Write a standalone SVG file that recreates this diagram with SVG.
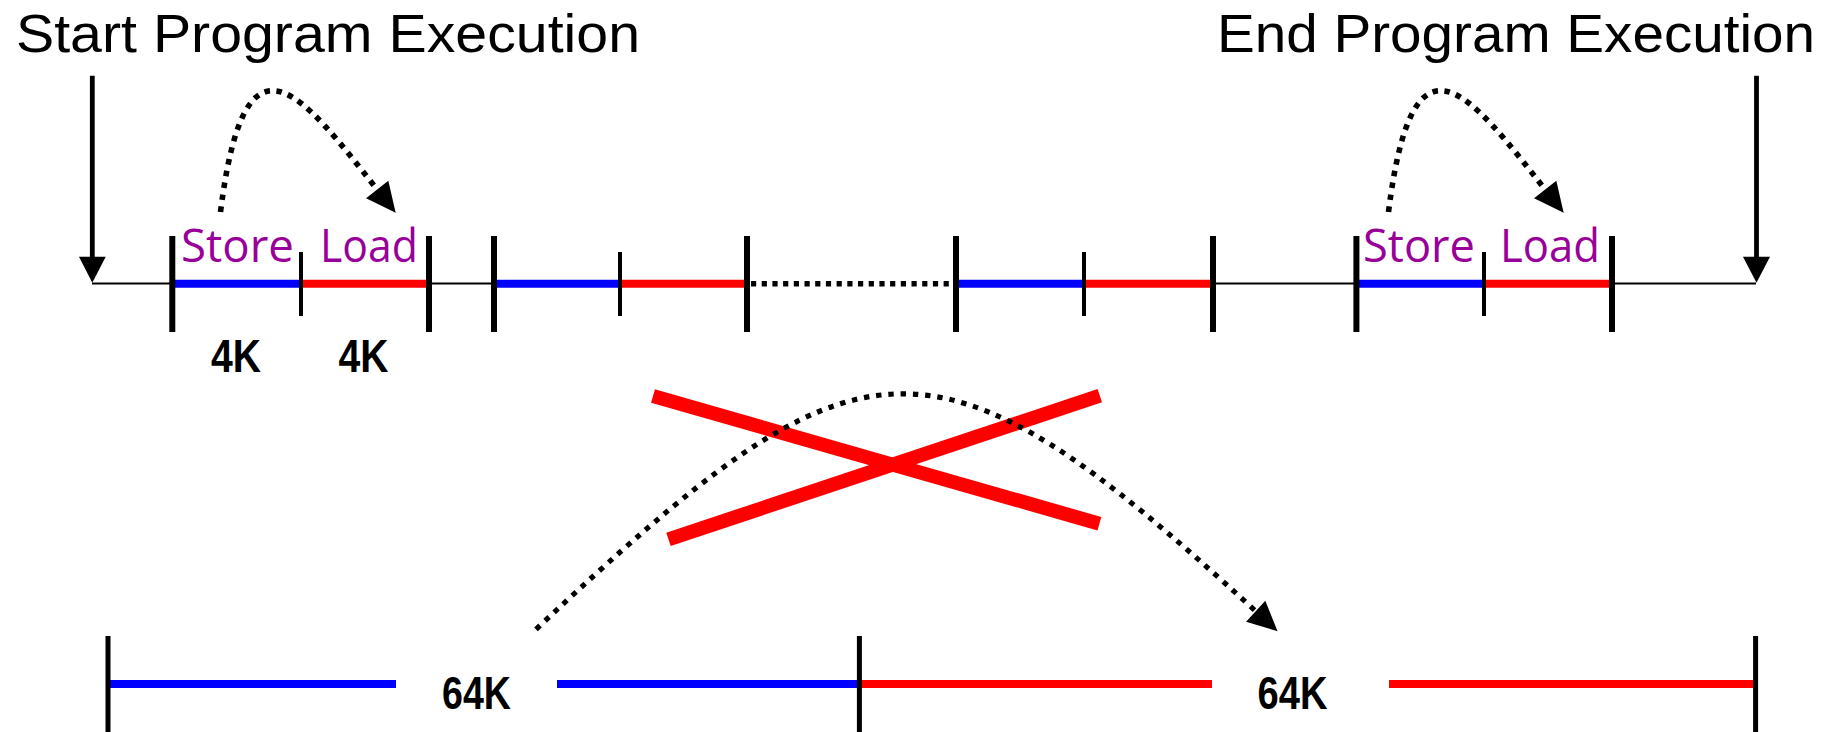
<svg xmlns="http://www.w3.org/2000/svg" width="1824" height="732" viewBox="0 0 1824 732">
  <style>
    .title { font-family: "Liberation Sans", Arial, sans-serif; font-size: 54px; fill: #000; }
    .phase { font-family: "Open Sans", "Noto Sans", sans-serif; font-size: 45px; fill: #990099; }
    .size { font-family: "Liberation Sans Narrow", "Liberation Sans", Arial, sans-serif; font-weight: bold; font-stretch: condensed; font-size: 47px; fill: #000; text-anchor: middle; }
    .thin { stroke: #000; stroke-width: 2; fill: none; }
    .store { stroke: #0000FF; stroke-width: 8; fill: none; }
    .load { stroke: #FF0000; stroke-width: 8; fill: none; }
    .tick { stroke: #000; stroke-width: 6; }
    .subtick { stroke: #000; stroke-width: 4; }
    .btick { stroke: #000; stroke-width: 5; }
    .gap { stroke: #000; stroke-width: 5.5; stroke-dasharray: 5.2 5.5; fill: none; }
    .hop { stroke: #000; stroke-width: 5.6; stroke-dasharray: 5.6 6.4; fill: none; }
    .bighop { stroke: #000; stroke-width: 5.2; stroke-dasharray: 5.4 6.9; fill: none; }
    .shaft { stroke: #000; stroke-width: 4.8; }
    .cross { stroke: #FF0000; stroke-width: 14; stroke-linecap: butt; }
  </style>
  <defs>
    <marker id="head" markerUnits="userSpaceOnUse" viewBox="0 0 30 28.4" markerWidth="30" markerHeight="28.4" refX="0" refY="14.2" orient="auto" overflow="visible">
      <path d="M0,0 L29.7,14.2 L0,28.4 z" fill="#000"/>
    </marker>
  </defs>

  <!-- headings -->
  <g id="start-label">
    <text class="title" x="16" y="52" textLength="624" lengthAdjust="spacingAndGlyphs">Start Program Execution</text>
  </g>
  <g id="end-label">
    <text class="title" x="1217" y="52" textLength="598" lengthAdjust="spacingAndGlyphs">End Program Execution</text>
  </g>

  <!-- start / end arrows -->
  <g id="start-arrow">
    <line class="shaft" x1="92.3" y1="75.7" x2="92.3" y2="258"/>
    <polygon points="79,256.7 105.7,256.7 92.3,282.7" fill="#000"/>
  </g>
  <g id="end-arrow">
    <line class="shaft" x1="1756.5" y1="75.7" x2="1756.5" y2="258"/>
    <polygon points="1743,256.7 1770,256.7 1756.5,282.7" fill="#000"/>
  </g>

  <!-- execution timeline with 4K store/load chunks -->
  <g id="timeline">
    <line class="thin" x1="92" y1="283.5" x2="172" y2="283.5"/>
    <line class="thin" x1="429" y1="283.5" x2="494" y2="283.5"/>
    <line class="thin" x1="1213" y1="283.5" x2="1356" y2="283.5"/>
    <line class="thin" x1="1612" y1="283.5" x2="1756" y2="283.5"/>
    <line class="gap" x1="751" y1="283.8" x2="953" y2="283.8"/>
  </g>

  <g id="chunk-1">
    <line class="store" x1="172" y1="283.8" x2="301" y2="283.8"/>
    <line class="load" x1="301" y1="283.8" x2="429" y2="283.8"/>
    <line class="tick" x1="172.3" y1="236" x2="172.3" y2="332"/>
    <line class="subtick" x1="301" y1="252" x2="301" y2="316"/>
    <line class="tick" x1="429" y1="236" x2="429" y2="332"/>
    <text class="phase" x="181" y="261.7" textLength="113" lengthAdjust="spacingAndGlyphs">Store</text>
    <text class="phase" x="320" y="261.7" textLength="98" lengthAdjust="spacingAndGlyphs">Load</text>
    <text class="size" x="236" y="372" textLength="50" lengthAdjust="spacingAndGlyphs">4K</text>
    <text class="size" x="363.5" y="372" textLength="50" lengthAdjust="spacingAndGlyphs">4K</text>
  </g>

  <g id="chunk-2">
    <line class="store" x1="494" y1="283.8" x2="620" y2="283.8"/>
    <line class="load" x1="620" y1="283.8" x2="746" y2="283.8"/>
    <line class="tick" x1="494" y1="236" x2="494" y2="332"/>
    <line class="subtick" x1="620" y1="252" x2="620" y2="316"/>
    <line class="tick" x1="747" y1="236" x2="747" y2="332"/>
  </g>

  <g id="chunk-3">
    <line class="store" x1="956" y1="283.8" x2="1084" y2="283.8"/>
    <line class="load" x1="1084" y1="283.8" x2="1213" y2="283.8"/>
    <line class="tick" x1="956" y1="236" x2="956" y2="332"/>
    <line class="subtick" x1="1084" y1="252" x2="1084" y2="316"/>
    <line class="tick" x1="1213" y1="236" x2="1213" y2="332"/>
  </g>

  <g id="chunk-4">
    <line class="store" x1="1356" y1="283.8" x2="1484" y2="283.8"/>
    <line class="load" x1="1484" y1="283.8" x2="1612" y2="283.8"/>
    <line class="tick" x1="1356.4" y1="236" x2="1356.4" y2="332"/>
    <line class="subtick" x1="1484" y1="252" x2="1484" y2="316"/>
    <line class="tick" x1="1612" y1="236" x2="1612" y2="332"/>
    <text class="phase" x="1363" y="261.7" textLength="112" lengthAdjust="spacingAndGlyphs">Store</text>
    <text class="phase" x="1500" y="261.7" textLength="100" lengthAdjust="spacingAndGlyphs">Load</text>
  </g>

  <!-- 64K store/load blocks -->
  <g id="block-store">
    <line class="store" x1="108" y1="684" x2="396" y2="684"/>
    <line class="store" x1="557" y1="684" x2="859" y2="684"/>
    <line class="btick" x1="108" y1="636" x2="108" y2="732"/>
    <text class="size" x="476.5" y="709" textLength="69" lengthAdjust="spacingAndGlyphs">64K</text>
  </g>
  <g id="block-load">
    <line class="load" x1="859" y1="684" x2="1212" y2="684"/>
    <line class="load" x1="1389" y1="684" x2="1756" y2="684"/>
    <line class="btick" x1="859.4" y1="636" x2="859.4" y2="732"/>
    <line class="btick" x1="1755.6" y1="636" x2="1755.6" y2="732"/>
    <text class="size" x="1292.5" y="709" textLength="70" lengthAdjust="spacingAndGlyphs">64K</text>
  </g>

  <!-- crossed-out mark -->
  <g id="cross">
    <line class="cross" x1="653" y1="396" x2="1099.4" y2="523.7"/>
    <line class="cross" x1="668.5" y1="539.3" x2="1099.8" y2="395.7"/>
  </g>

  <!-- store-to-load hops -->
  <g id="connectors">
    <path class="hop" d="M220.5,212 C245,15 302.7,95.7 377.2,189.5" marker-end="url(#head)"/>
    <path class="hop" d="M1388.5,212 C1413,15 1470.7,95.7 1545.2,189.5" marker-end="url(#head)"/>
    <path class="bighop" d="M536,629.3 C860,325 930,312 1255.7,611.2" marker-end="url(#head)"/>
  </g>
</svg>
